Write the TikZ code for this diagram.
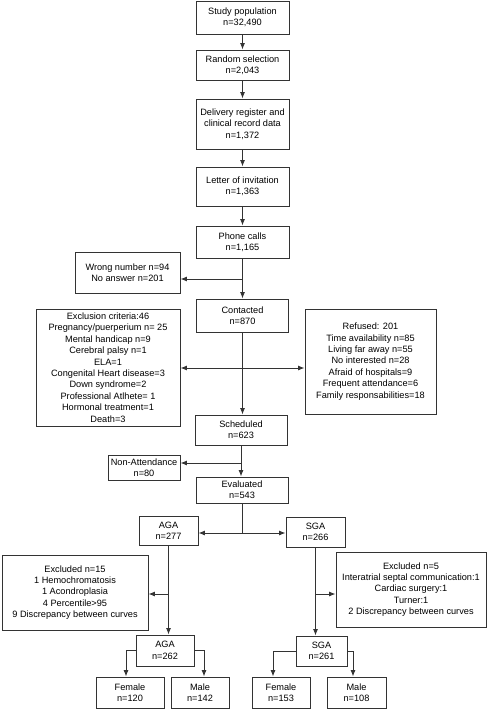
\documentclass[tikz,border=0pt]{standalone}
\usepackage{fontspec}
\setmainfont{Liberation Sans}
\usetikzlibrary{arrows.meta}
\begin{document}
\begin{tikzpicture}[x=1pt,y=-1pt,
 box/.style={draw=black!80, line width=0.9pt, align=center, inner sep=0pt, font=\fontsize{9.2}{11.4}\selectfont},
 arr/.style={draw=black!80, line width=0.9pt, -{Latex[length=6.5pt,width=5pt]}},
 ln/.style={draw=black!80, line width=0.9pt}]
\useasboundingbox (0,0) rectangle (489,711);
% main column
\node[box, minimum width=93pt, minimum height=33pt] (study) at (242.5,17.5) {Study population\\n=32,490};
\node[box, minimum width=93pt, minimum height=30pt] (random) at (242.5,65) {Random selection\\n=2,043};
\node[box, minimum width=93pt, minimum height=50pt] (deliv) at (242.5,124) {Delivery register and\\clinical record data\\n=1,372};
\node[box, minimum width=93pt, minimum height=39pt] (letter) at (242.5,186.5) {Letter of invitation\\n=1,363};
\node[box, minimum width=93pt, minimum height=32pt] (phone) at (242.5,242) {Phone calls\\n=1,165};
\node[box, minimum width=92pt, minimum height=33pt] (contact) at (242.5,315.5) {Contacted\\n=870};
\node[box, minimum width=92pt, minimum height=30pt] (sched) at (241,430) {Scheduled\\n=623};
\node[box, minimum width=92pt, minimum height=26pt] (eval) at (242,490) {Evaluated\\n=543};
% side boxes
\node[box, minimum width=105pt, minimum height=41pt] (wrong) at (127.5,272.5) {Wrong number n=94\\No answer n=201};
\node[box, minimum width=144pt, minimum height=117pt] (excl) at (108,367.5) {Exclusion criteria:46\\Pregnancy/puerperium n= 25\\Mental handicap n=9\\Cerebral palsy n=1\\ELA=1\\Congenital Heart disease=3\\Down syndrome=2\\Professional Atlhete= 1\\Hormonal treatment=1\\Death=3};
\node[box, minimum width=131pt, minimum height=105pt] (refused) at (370.5,361.5) {Refused: 201\\Time availability n=85\\Living far away n=55\\No interested n=28\\Afraid of hospitals=9\\Frequent attendance=6\\Family responsabilities=18};
\node[box, minimum width=72pt, minimum height=25pt] (nonatt) at (144,467.5) {Non-Attendance\\n=80};
% AGA / SGA
\node[box, minimum width=59pt, minimum height=29pt] (aga1) at (168.5,530.5) {AGA\\n=277};
\node[box, minimum width=59pt, minimum height=30pt] (sga1) at (315.5,532) {SGA\\n=266};
\node[box, minimum width=146pt, minimum height=75pt] (exA) at (75,592.5) {Excluded n=15\\1 Hemochromatosis\\1 Acondroplasia\\4 Percentile>95\\9 Discrepancy between curves};
\node[box, minimum width=150pt, minimum height=75pt] (exS) at (411,589.5) {Excluded n=5\\Interatrial septal communication:1\\Cardiac surgery:1\\Turner:1\\2 Discrepancy between curves};
\node[box, minimum width=58pt, minimum height=31pt] (aga2) at (165,650.5) {AGA\\n=262};
\node[box, minimum width=51pt, minimum height=30pt] (sga2) at (321.5,651) {SGA\\n=261};
\node[box, minimum width=68pt, minimum height=31pt] (femA) at (130,692.5) {Female\\n=120};
\node[box, minimum width=58pt, minimum height=31pt] (maleA) at (200,692.5) {Male\\n=142};
\node[box, minimum width=58pt, minimum height=31pt] (femS) at (281,692.5) {Female\\n=153};
\node[box, minimum width=59pt, minimum height=31pt] (maleS) at (356.5,692.5) {Male\\n=108};
% main arrows
\draw[arr] (study) -- (random);
\draw[arr] (random) -- (deliv);
\draw[arr] (deliv) -- (letter);
\draw[arr] (letter) -- (phone);
\draw[arr] (phone) -- (contact);
\coordinate (j0) at (242.5,279);
\draw[arr] (j0) -- (wrong.east |- j0);
\draw[arr] (contact.south) -- (contact.south |- sched.north);
\coordinate (j1) at (242.5,368);
\draw[arr] (j1) -- (excl.east |- j1);
\draw[arr] (j1) -- (refused.west |- j1);
\draw[arr] (sched.south) -- (sched.south |- eval.north);
\coordinate (j2) at (241,463);
\draw[arr] (j2) -- (nonatt.east |- j2);
\coordinate (j3) at (242,533);
\draw[ln] (eval.south) -- (j3);
\draw[arr] (j3) -- (aga1.east |- j3);
\draw[arr] (j3) -- (sga1.west |- j3);
% AGA branch
\draw[arr] (aga1.south) -- (aga1.south |- aga2.north);
\coordinate (j4) at (168.5,594);
\draw[arr] (j4) -- (exA.east |- j4);
\draw[arr] (aga2.west) -| ([xshift=-4pt]femA.north);
\draw[arr] (aga2.east) -| ([xshift=4pt]maleA.north);
% SGA branch
\draw[arr] (sga1.south) -- (sga1.south |- sga2.north);
\coordinate (j5) at (315.5,594);
\draw[arr] (j5) -- (exS.west |- j5);
\draw[arr] (sga2.west) -| ([xshift=-8pt]femS.north);
\draw[arr] (sga2.east) -| ([xshift=-3.5pt]maleS.north);
\end{tikzpicture}
\end{document}
